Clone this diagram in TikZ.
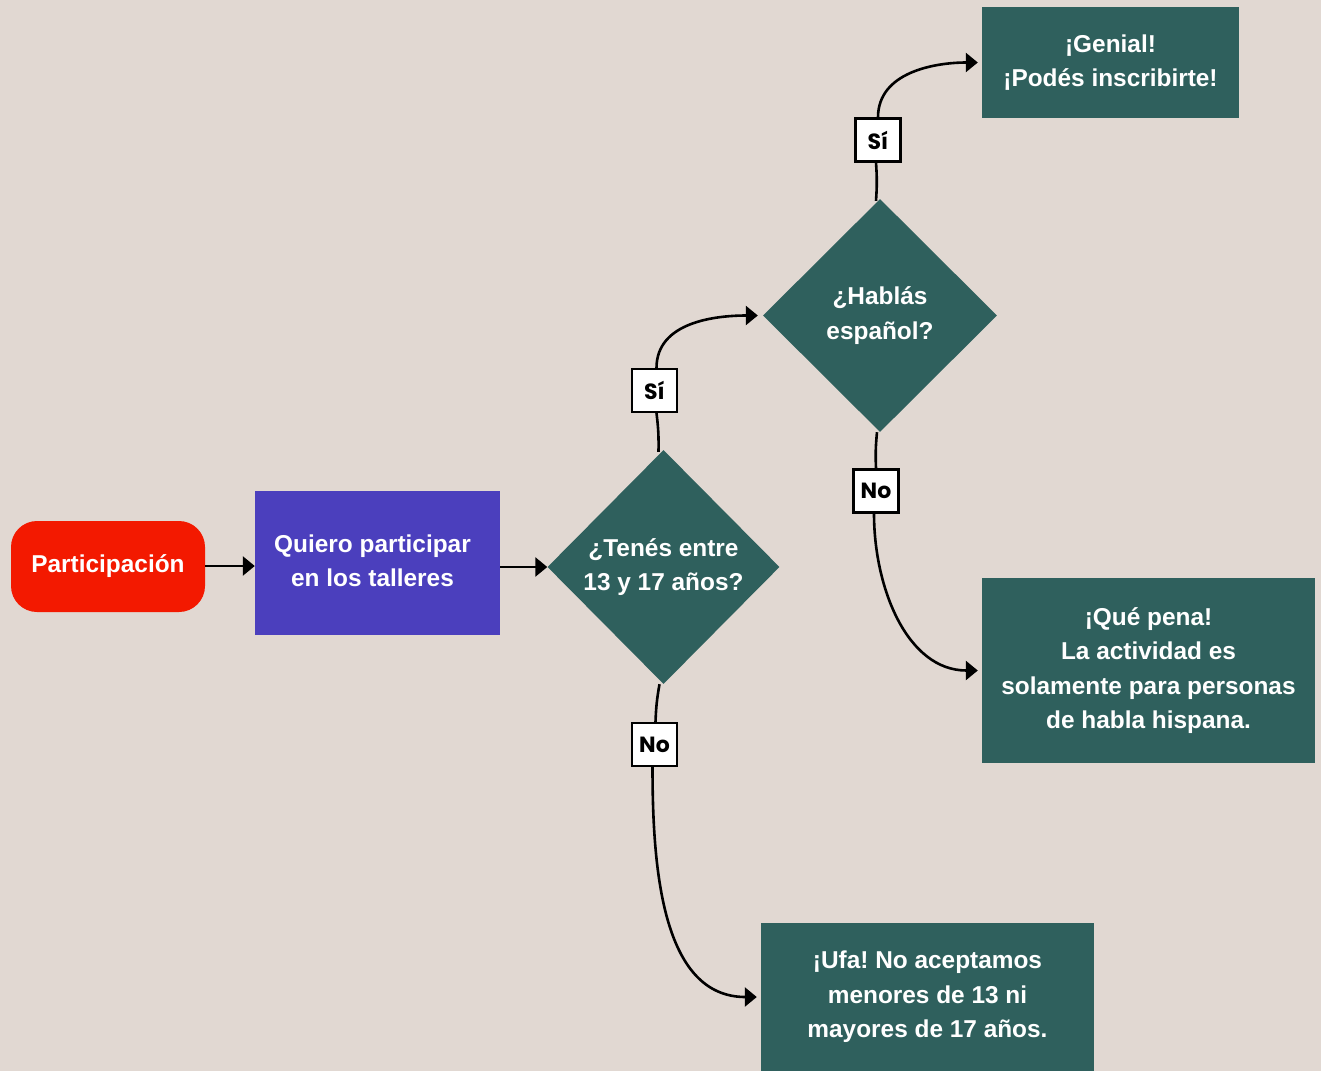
\documentclass[tikz,border=0pt]{standalone}
\usepackage{fontspec}
\setmainfont{Liberation Sans}
\newfontfamily\labelfont{Poppins}
\usetikzlibrary{shapes.geometric,arrows.meta}
\definecolor{bgcol}{HTML}{E1D8D2}
\definecolor{startred}{HTML}{F31900}
\definecolor{stepblue}{HTML}{4B3FBD}
\definecolor{teal}{HTML}{2F605D}
\frenchspacing
\begin{document}
\begin{tikzpicture}[x=1pt,y=1pt,
  txt/.style={text=white,align=center,font=\bfseries\fontsize{24.4}{34.5}\selectfont,inner sep=0pt},
  startbox/.style={txt,fill=startred,rounded corners=26pt,minimum width=194pt,minimum height=91pt},
  stepbox/.style={txt,fill=stepblue,minimum width=245pt,minimum height=144pt},
  endbox/.style={txt,fill=teal},
  decision/.style={txt,fill=teal,diamond,aspect=1,inner sep=0pt},
  answer/.style={draw=black,fill=white,line width=2.2pt,minimum width=45pt,minimum height=43pt,inner sep=0pt,
    font=\labelfont\bfseries\fontsize{22}{22}\selectfont},
  link/.style={line width=2.6pt,draw=black},
  arr/.style={link,-{Triangle[length=12pt,width=19pt]}},
]
% canvas
\fill[bgcol] (0,0) rectangle (1321,-1071);
\useasboundingbox (0,0) rectangle (1321,-1071);

% nodes
\node[startbox] (start) at (108,-566.5) {Participación};
\node[stepbox] (want) at (377.5,-563) {};
\node[txt] (wanttext) at (372.5,-561) {Quiero participar\\en los talleres};
\node[decision,minimum width=232pt,minimum height=234pt] (age) at (663.5,-567) {¿Tenés entre\\13 y 17 años?};
\node[decision,minimum width=234pt,minimum height=233pt] (lang) at (880,-315.5) {¿Hablás\\español?};
\node[endbox,minimum width=257pt,minimum height=111pt] (yes) at (1110.5,-62.5) {¡Genial!\\¡Podés inscribirte!};
\node[endbox,minimum width=333pt,minimum height=185pt] (sorry) at (1148.5,-670.5)
  {¡Qué pena!\\La actividad es\\solamente para personas\\de habla hispana.};
\node[endbox,minimum width=333pt,minimum height=148pt] (ufa) at (927.5,-997)
  {¡Ufa! No aceptamos\\menores de 13 ni\\mayores de 17 años.};

% answer labels
\node[answer] (ageyes) at (654.5,-390.5) {Sí};
\node[answer] (ageno) at (654.5,-744.5) {No};
\node[answer] (langyes) at (878,-140) {Sí};
\node[answer] (langno) at (876,-491) {No};

% connectors
\draw[arr] (start.east |- 0,-566) -- (want.west |- 0,-566);
\draw[arr] (want.east |- 0,-567) -- (age.west);

\draw[link] ([xshift=-5pt,yshift=-2pt]age.north) to[bend right=4] ([xshift=2pt]ageyes.south);
\draw[arr,shorten >=5pt] ([xshift=2pt]ageyes.north) to[out=90,in=180] (lang.west);

\draw[link] ([xshift=-4pt]age.south) to[bend right=4] ([xshift=1pt]ageno.north);
\draw[arr,shorten >=4pt] ([xshift=-2pt]ageno.south) to[out=-90,in=180] (ufa.west);

\draw[link] ([xshift=-4pt,yshift=-2pt]lang.north) to[bend right=4] ([xshift=-2pt]langyes.south);
\draw[arr,shorten >=4pt] (langyes.north) to[out=90,in=180] (yes.west);

\draw[link] ([xshift=-3pt]lang.south) to[bend right=4] (langno.north);
\draw[arr,shorten >=4pt] ([xshift=-2pt]langno.south) to[out=-90,in=180] (sorry.west);
\end{tikzpicture}
\end{document}
